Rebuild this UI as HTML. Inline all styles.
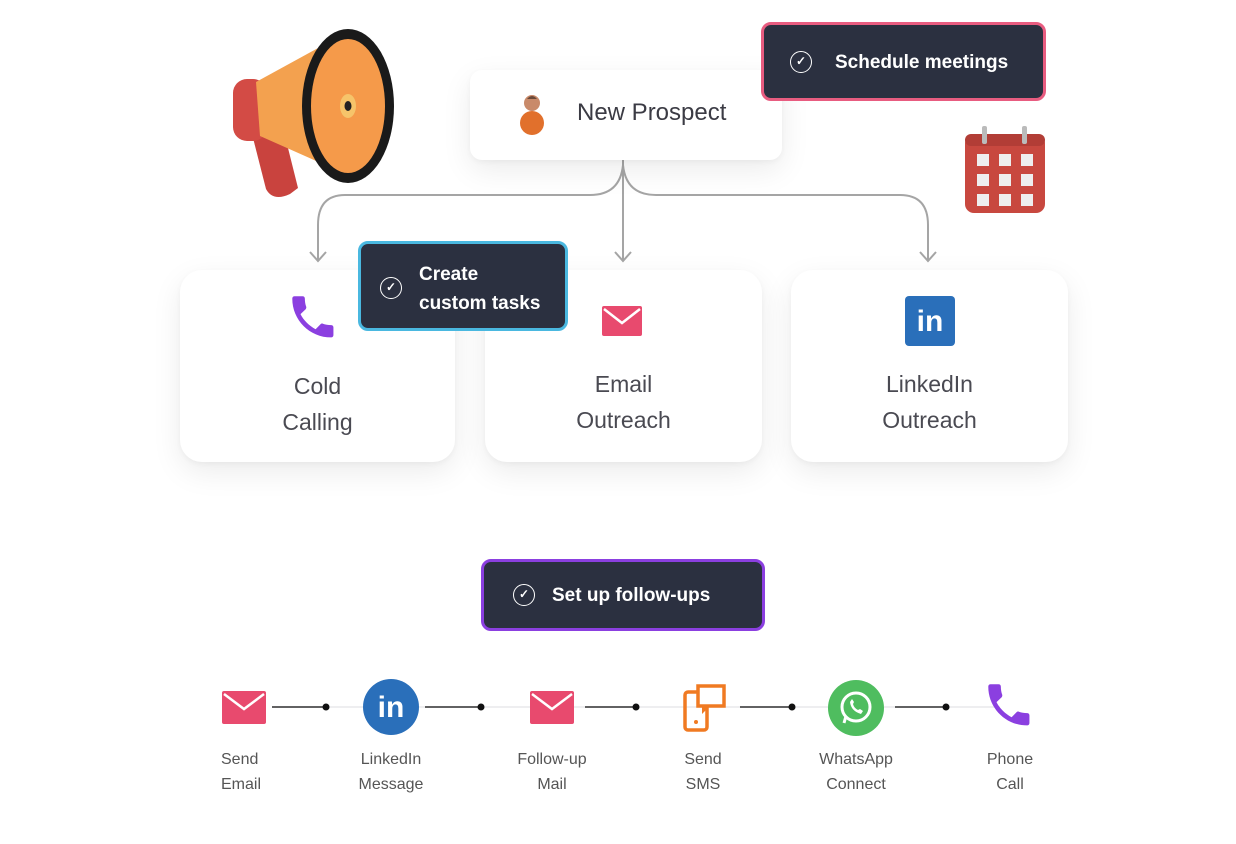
<!DOCTYPE html>
<html><head><style>
body{margin:0;width:1236px;height:844px;background:#fff;position:relative;overflow:hidden;font-family:"Liberation Sans",sans-serif;}
.abs{position:absolute}
.card{position:absolute;background:#fff;border-radius:22px;box-shadow:0 10px 30px rgba(0,0,0,0.08),0 2px 6px rgba(0,0,0,0.04);}
.ctext{position:absolute;left:0;right:0;text-align:center;font-size:23px;color:#4a4a52;line-height:36px}
.tag{position:absolute;background:#2b3040;border-radius:10px;color:#fff;font-size:19px;font-weight:bold;box-sizing:border-box}
.chk{position:absolute;width:22px;height:22px;border:1.6px solid #fff;border-radius:50%;box-sizing:border-box;font-size:12px;line-height:19px;text-align:center}
.lbl{position:absolute;width:120px;text-align:center;font-size:16px;color:#555;line-height:25px}
</style></head><body>

<!-- megaphone -->
<svg class="abs" style="left:228px;top:24px" width="175" height="180" viewBox="0 0 175 180">
<path d="M24 110 L38 165 Q45 178 62 170 L70 164 L56 108 Z" fill="#c9433e"/>
<rect x="5" y="55" width="34" height="62" rx="14" fill="#d34b45"/>
<path d="M28 58 L112 12 L122 152 L32 112 Z" fill="#f3a14f"/>
<ellipse cx="120" cy="82" rx="46" ry="77" fill="#1a1a1a"/>
<ellipse cx="120" cy="82" rx="37" ry="67" fill="#f59a4a"/>
<ellipse cx="120" cy="82" rx="8" ry="12" fill="#f6c46a"/>
<ellipse cx="120" cy="82" rx="3.5" ry="5" fill="#222"/>
</svg>

<!-- connectors -->
<svg class="abs" style="left:0;top:0" width="1236" height="844">
<g fill="none" stroke="#a5a5a5" stroke-width="2">
<path d="M623 160 L623 260"/>
<path d="M623 165 Q620 195 590 195 L345 195 Q318 195 318 225 L318 260"/>
<path d="M623 165 Q626 195 656 195 L900 195 Q928 195 928 225 L928 260"/>
<path d="M310 252 L318 261 L326 252 M615 252 L623 261 L631 252 M920 252 L928 261 L936 252"/>
</g>
<g stroke-width="1.5">
<line x1="272" y1="707" x2="1000" y2="707" stroke="#e8e8ec"/>
<line x1="272" y1="707" x2="326" y2="707" stroke="#333"/>
<line x1="425" y1="707" x2="481" y2="707" stroke="#333"/>
<line x1="585" y1="707" x2="636" y2="707" stroke="#333"/>
<line x1="740" y1="707" x2="792" y2="707" stroke="#333"/>
<line x1="895" y1="707" x2="946" y2="707" stroke="#333"/>
</g>
<g fill="#111"><circle cx="326" cy="707" r="3.5"/><circle cx="481" cy="707" r="3.5"/><circle cx="636" cy="707" r="3.5"/><circle cx="792" cy="707" r="3.5"/><circle cx="946" cy="707" r="3.5"/></g>
</svg>

<!-- new prospect -->
<div class="card" style="left:470px;top:70px;width:312px;height:90px;border-radius:12px">
<svg class="abs" style="left:45px;top:23px" width="34" height="42"><circle cx="17" cy="10" r="8" fill="#c98a6a"/><path d="M12 6 Q17 0 22 6" fill="#6b4a3a"/><circle cx="17" cy="30" r="12" fill="#e1702c"/></svg>
<div class="abs" style="left:107px;top:29px;font-size:24px;color:#3b3b44">New Prospect</div>
</div>

<!-- schedule meetings -->
<div class="tag" style="left:761px;top:22px;width:285px;height:79px;border:3px solid #e85c80">
<div class="chk" style="left:26px;top:26px">✓</div>
<div class="abs" style="left:71px;top:27px">Schedule meetings</div>
</div>

<!-- calendar -->
<svg class="abs" style="left:962px;top:124px" width="86" height="92">
<rect x="3" y="10" width="80" height="79" rx="9" fill="#c8483f"/>
<rect x="3" y="10" width="80" height="12" rx="6" fill="#b23d36"/>
<rect x="20" y="2" width="5" height="18" rx="2" fill="#bbb"/><rect x="60" y="2" width="5" height="18" rx="2" fill="#bbb"/>
<g fill="#eee"><rect x="15" y="30" width="12" height="12"/><rect x="37" y="30" width="12" height="12"/><rect x="59" y="30" width="12" height="12"/>
<rect x="15" y="50" width="12" height="12"/><rect x="37" y="50" width="12" height="12"/><rect x="59" y="50" width="12" height="12"/>
<rect x="15" y="70" width="12" height="12"/><rect x="37" y="70" width="12" height="12"/><rect x="59" y="70" width="12" height="12"/></g>
</svg>

<!-- cards -->
<div class="card" style="left:180px;top:270px;width:275px;height:192px">
<svg class="abs" style="left:110px;top:24px" width="48" height="48" viewBox="2 2 21 21"><path fill="#8b3fe0" d="M6.6 10.8c1.4 2.8 3.8 5.1 6.6 6.6l2.2-2.2c.3-.3.7-.4 1-.2 1.1.4 2.3.6 3.6.6.6 0 1 .4 1 1V20c0 .6-.4 1-1 1C10.6 21 3 13.4 3 4c0-.6.4-1 1-1h3.5c.6 0 1 .4 1 1 0 1.3.2 2.5.6 3.6.1.3 0 .7-.2 1L6.6 10.8z"/></svg>
<div class="ctext" style="top:98px">Cold<br>Calling</div>
</div>
<div class="card" style="left:485px;top:270px;width:277px;height:192px">
<svg class="abs" style="left:117px;top:36px" width="40" height="30"><rect width="40" height="30" rx="2" fill="#e84a6e"/><path d="M2 3 L20 17 L38 3" stroke="#fff" stroke-width="2.5" fill="none"/></svg>
<div class="ctext" style="top:96px">Email<br>Outreach</div>
</div>
<div class="card" style="left:791px;top:270px;width:277px;height:192px">
<div class="abs" style="left:114px;top:26px;width:50px;height:50px;background:#2a6fba;border-radius:4px;color:#fff;font-weight:bold;font-size:30px;text-align:center;line-height:52px">in</div>
<div class="ctext" style="top:96px">LinkedIn<br>Outreach</div>
</div>

<!-- create custom tasks -->
<div class="tag" style="left:358px;top:241px;width:210px;height:90px;border:3px solid #4ab8e0">
<div class="chk" style="left:19px;top:33px">✓</div>
<div class="abs" style="left:58px;top:16px;line-height:29px">Create<br>custom tasks</div>
</div>

<!-- follow-ups -->
<div class="tag" style="left:481px;top:559px;width:284px;height:72px;border:3px solid #8b3fe0">
<div class="chk" style="left:29px;top:22px">✓</div>
<div class="abs" style="left:68px;top:23px">Set up follow-ups</div>
</div>

<!-- bottom icons -->
<svg class="abs" style="left:222px;top:691px" width="44" height="33"><rect width="44" height="33" rx="2" fill="#e84a6e"/><path d="M2 3 L22 18 L42 3" stroke="#fff" stroke-width="2.5" fill="none"/></svg>
<div class="abs" style="left:363px;top:679px;width:56px;height:56px;border-radius:50%;background:#2a6fba;color:#fff;font-weight:bold;font-size:30px;text-align:center;line-height:58px">in</div>
<svg class="abs" style="left:530px;top:691px" width="44" height="33"><rect width="44" height="33" rx="2" fill="#e84a6e"/><path d="M2 3 L22 18 L42 3" stroke="#fff" stroke-width="2.5" fill="none"/></svg>
<svg class="abs" style="left:682px;top:684px" width="46" height="48"><rect x="3" y="8" width="22" height="38" rx="3" fill="none" stroke="#f07a22" stroke-width="3.5"/><rect x="16" y="2" width="26" height="20" fill="#fff" stroke="#f07a22" stroke-width="3.5"/><path d="M20 22 L20 30 L28 22" fill="#f07a22"/><circle cx="14" cy="38" r="2" fill="#f07a22"/></svg>
<svg class="abs" style="left:827px;top:679px" width="58" height="58"><circle cx="29" cy="29" r="28" fill="#4fbd5f"/><path d="M29 14 A14 14 0 1 0 29 42 A14 14 0 0 0 29 14 Z M17 44 L19 37" stroke="#fff" stroke-width="3" fill="none"/><path d="M23 23 Q24 32 34 35 L36 32 L33 30 L31 31 Q27 29 26 25 L27 23 L25 20 Z" fill="#fff"/></svg>
<svg class="abs" style="left:986px;top:682px" width="48" height="48" viewBox="2 2 21 21"><path fill="#8b3fe0" d="M6.6 10.8c1.4 2.8 3.8 5.1 6.6 6.6l2.2-2.2c.3-.3.7-.4 1-.2 1.1.4 2.3.6 3.6.6.6 0 1 .4 1 1V20c0 .6-.4 1-1 1C10.6 21 3 13.4 3 4c0-.6.4-1 1-1h3.5c.6 0 1 .4 1 1 0 1.3.2 2.5.6 3.6.1.3 0 .7-.2 1L6.6 10.8z"/></svg>

<div class="lbl" style="left:184px;top:747px;text-align:left;padding-left:37px;width:80px">Send<br>Email</div>
<div class="lbl" style="left:331px;top:747px">LinkedIn<br>Message</div>
<div class="lbl" style="left:492px;top:747px">Follow-up<br>Mail</div>
<div class="lbl" style="left:643px;top:747px">Send<br>SMS</div>
<div class="lbl" style="left:796px;top:747px">WhatsApp<br>Connect</div>
<div class="lbl" style="left:950px;top:747px">Phone<br>Call</div>
</body></html>
